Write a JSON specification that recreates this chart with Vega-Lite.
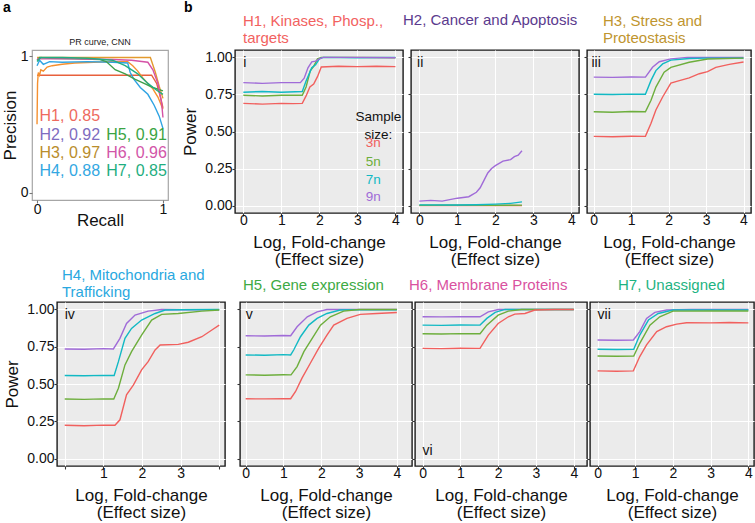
{
"$schema":"https://vega.github.io/schema/vega-lite/v6.json",
"background":"white",
"padding":{"left":0,"top":0,"right":0,"bottom":0},
"config":{
 "font":"Liberation Sans",
 "view":{"stroke":"#1a1a1a","strokeWidth":1.4,"fill":"#EBEBEB"},
 "axis":{"domain":false,"grid":true,"gridColor":"white","tickColor":"#333333","tickSize":3,"tickWidth":1.1,"labelFontSize":14,"labelColor":"#111111","titleFontSize":17,"titleFontWeight":"normal","titleColor":"#111111","titleLineHeight":17,"labelFlush":false,"labelOverlap":false},
 "axisX":{"labelPadding":-3,"titlePadding":7},
 "axisY":{"labelPadding":0,"titlePadding":5},
 "title":{"anchor":"start","frame":"group","fontWeight":"normal","fontSize":15,"lineHeight":17},
 "text":{"font":"Liberation Sans"}
},
"datasets":{
"pr":[
{"h":"H1","x":0,"y":0.86},{"h":"H1","x":0.3,"y":0.86},{"h":"H1","x":0.6,"y":0.86},{"h":"H1","x":0.91,"y":0.86},{"h":"H1","x":0.95,"y":0.8},{"h":"H1","x":0.98,"y":0.7},{"h":"H1","x":1,"y":0.62},
{"h":"H2","x":0,"y":0.5},{"h":"H2","x":0.004,"y":0.8},{"h":"H2","x":0.01,"y":0.88},{"h":"H2","x":0.02,"y":0.86},{"h":"H2","x":0.03,"y":0.9},{"h":"H2","x":0.05,"y":0.89},{"h":"H2","x":0.08,"y":0.92},{"h":"H2","x":0.12,"y":0.93},{"h":"H2","x":0.2,"y":0.94},{"h":"H2","x":0.3,"y":0.95},{"h":"H2","x":0.45,"y":0.955},{"h":"H2","x":0.6,"y":0.96},{"h":"H2","x":0.72,"y":0.96},{"h":"H2","x":0.76,"y":0.93},{"h":"H2","x":0.8,"y":0.89},{"h":"H2","x":0.84,"y":0.84},{"h":"H2","x":0.88,"y":0.8},{"h":"H2","x":0.92,"y":0.76},{"h":"H2","x":0.96,"y":0.7},{"h":"H2","x":1,"y":0.61},
{"h":"H3","x":0,"y":0.99},{"h":"H3","x":0.3,"y":0.99},{"h":"H3","x":0.6,"y":0.99},{"h":"H3","x":0.9,"y":0.99},{"h":"H3","x":0.94,"y":0.88},{"h":"H3","x":0.97,"y":0.78},{"h":"H3","x":1,"y":0.69},
{"h":"H4","x":0,"y":0.93},{"h":"H4","x":0.02,"y":0.97},{"h":"H4","x":0.05,"y":0.94},{"h":"H4","x":0.1,"y":0.96},{"h":"H4","x":0.2,"y":0.955},{"h":"H4","x":0.4,"y":0.96},{"h":"H4","x":0.6,"y":0.955},{"h":"H4","x":0.72,"y":0.95},{"h":"H4","x":0.74,"y":0.88},{"h":"H4","x":0.77,"y":0.83},{"h":"H4","x":0.82,"y":0.77},{"h":"H4","x":0.88,"y":0.72},{"h":"H4","x":0.93,"y":0.64},{"h":"H4","x":0.97,"y":0.56},{"h":"H4","x":1,"y":0.47},
{"h":"H5","x":0,"y":0.97},{"h":"H5","x":0.02,"y":0.99},{"h":"H5","x":0.1,"y":0.985},{"h":"H5","x":0.3,"y":0.98},{"h":"H5","x":0.5,"y":0.975},{"h":"H5","x":0.55,"y":0.96},{"h":"H5","x":0.62,"y":0.9},{"h":"H5","x":0.7,"y":0.87},{"h":"H5","x":0.78,"y":0.83},{"h":"H5","x":0.85,"y":0.8},{"h":"H5","x":0.92,"y":0.77},{"h":"H5","x":1,"y":0.745},
{"h":"H6","x":0,"y":0.98},{"h":"H6","x":0.3,"y":0.98},{"h":"H6","x":0.6,"y":0.975},{"h":"H6","x":0.75,"y":0.97},{"h":"H6","x":0.88,"y":0.955},{"h":"H6","x":0.92,"y":0.9},{"h":"H6","x":0.96,"y":0.8},{"h":"H6","x":0.99,"y":0.65},{"h":"H6","x":1,"y":0.55},
{"h":"H7","x":0,"y":0.96},{"h":"H7","x":0.03,"y":0.99},{"h":"H7","x":0.2,"y":0.99},{"h":"H7","x":0.4,"y":0.985},{"h":"H7","x":0.6,"y":0.97},{"h":"H7","x":0.7,"y":0.93},{"h":"H7","x":0.8,"y":0.87},{"h":"H7","x":0.88,"y":0.8},{"h":"H7","x":0.95,"y":0.75},{"h":"H7","x":1,"y":0.72}
],
"power":[
{"p":"i","n":"3n","x":0,"y":0.69},{"p":"i","n":"3n","x":0.5,"y":0.685},{"p":"i","n":"3n","x":1,"y":0.69},{"p":"i","n":"3n","x":1.3,"y":0.688},{"p":"i","n":"3n","x":1.55,"y":0.69},{"p":"i","n":"3n","x":1.65,"y":0.74},{"p":"i","n":"3n","x":1.75,"y":0.8},{"p":"i","n":"3n","x":1.85,"y":0.82},{"p":"i","n":"3n","x":1.95,"y":0.87},{"p":"i","n":"3n","x":2.05,"y":0.935},{"p":"i","n":"3n","x":2.5,"y":0.94},{"p":"i","n":"3n","x":3,"y":0.938},{"p":"i","n":"3n","x":3.5,"y":0.94},{"p":"i","n":"3n","x":4,"y":0.938},
{"p":"i","n":"5n","x":0,"y":0.745},{"p":"i","n":"5n","x":0.5,"y":0.74},{"p":"i","n":"5n","x":1,"y":0.745},{"p":"i","n":"5n","x":1.55,"y":0.745},{"p":"i","n":"5n","x":1.65,"y":0.8},{"p":"i","n":"5n","x":1.76,"y":0.91},{"p":"i","n":"5n","x":1.85,"y":0.94},{"p":"i","n":"5n","x":1.95,"y":0.99},{"p":"i","n":"5n","x":2.05,"y":1},{"p":"i","n":"5n","x":3,"y":1},{"p":"i","n":"5n","x":4,"y":0.998},
{"p":"i","n":"7n","x":0,"y":0.765},{"p":"i","n":"7n","x":0.5,"y":0.77},{"p":"i","n":"7n","x":1,"y":0.765},{"p":"i","n":"7n","x":1.55,"y":0.77},{"p":"i","n":"7n","x":1.65,"y":0.84},{"p":"i","n":"7n","x":1.8,"y":0.93},{"p":"i","n":"7n","x":1.9,"y":0.95},{"p":"i","n":"7n","x":2,"y":0.99},{"p":"i","n":"7n","x":2.1,"y":1},{"p":"i","n":"7n","x":3,"y":0.998},{"p":"i","n":"7n","x":4,"y":1},
{"p":"i","n":"9n","x":0,"y":0.83},{"p":"i","n":"9n","x":0.5,"y":0.825},{"p":"i","n":"9n","x":1,"y":0.83},{"p":"i","n":"9n","x":1.5,"y":0.83},{"p":"i","n":"9n","x":1.6,"y":0.86},{"p":"i","n":"9n","x":1.7,"y":0.93},{"p":"i","n":"9n","x":1.8,"y":0.97},{"p":"i","n":"9n","x":1.9,"y":0.975},{"p":"i","n":"9n","x":2,"y":0.99},{"p":"i","n":"9n","x":2.1,"y":1},{"p":"i","n":"9n","x":3,"y":1},{"p":"i","n":"9n","x":4,"y":0.998},
{"p":"ii","n":"3n","x":0,"y":0},{"p":"ii","n":"3n","x":1,"y":0.001},{"p":"ii","n":"3n","x":2,"y":0.001},{"p":"ii","n":"3n","x":2.7,"y":0},
{"p":"ii","n":"5n","x":0,"y":0.002},{"p":"ii","n":"5n","x":1,"y":0.003},{"p":"ii","n":"5n","x":2,"y":0.002},{"p":"ii","n":"5n","x":2.7,"y":0.003},
{"p":"ii","n":"7n","x":0,"y":0.005},{"p":"ii","n":"7n","x":1,"y":0.004},{"p":"ii","n":"7n","x":1.5,"y":0.006},{"p":"ii","n":"7n","x":2,"y":0.01},{"p":"ii","n":"7n","x":2.4,"y":0.015},{"p":"ii","n":"7n","x":2.7,"y":0.025},
{"p":"ii","n":"9n","x":0,"y":0.03},{"p":"ii","n":"9n","x":0.3,"y":0.035},{"p":"ii","n":"9n","x":0.6,"y":0.03},{"p":"ii","n":"9n","x":1,"y":0.05},{"p":"ii","n":"9n","x":1.3,"y":0.06},{"p":"ii","n":"9n","x":1.5,"y":0.09},{"p":"ii","n":"9n","x":1.6,"y":0.12},{"p":"ii","n":"9n","x":1.7,"y":0.17},{"p":"ii","n":"9n","x":1.8,"y":0.22},{"p":"ii","n":"9n","x":1.9,"y":0.25},{"p":"ii","n":"9n","x":2,"y":0.27},{"p":"ii","n":"9n","x":2.2,"y":0.3},{"p":"ii","n":"9n","x":2.4,"y":0.31},{"p":"ii","n":"9n","x":2.5,"y":0.33},{"p":"ii","n":"9n","x":2.6,"y":0.34},{"p":"ii","n":"9n","x":2.7,"y":0.37},
{"p":"iii","n":"9n","x":0,"y":0.867},{"p":"iii","n":"9n","x":0.5,"y":0.865},{"p":"iii","n":"9n","x":1,"y":0.868},{"p":"iii","n":"9n","x":1.38,"y":0.867},{"p":"iii","n":"9n","x":1.57,"y":0.933},{"p":"iii","n":"9n","x":1.75,"y":0.971},{"p":"iii","n":"9n","x":2.06,"y":0.99},{"p":"iii","n":"9n","x":2.5,"y":1},{"p":"iii","n":"9n","x":3,"y":1},{"p":"iii","n":"9n","x":4,"y":1},
{"p":"iii","n":"7n","x":0,"y":0.751},{"p":"iii","n":"7n","x":0.5,"y":0.75},{"p":"iii","n":"7n","x":1,"y":0.752},{"p":"iii","n":"7n","x":1.38,"y":0.751},{"p":"iii","n":"7n","x":1.53,"y":0.845},{"p":"iii","n":"7n","x":1.66,"y":0.911},{"p":"iii","n":"7n","x":1.84,"y":0.956},{"p":"iii","n":"7n","x":2.06,"y":0.982},{"p":"iii","n":"7n","x":2.55,"y":0.993},{"p":"iii","n":"7n","x":3,"y":0.995},{"p":"iii","n":"7n","x":4,"y":0.995},
{"p":"iii","n":"5n","x":0,"y":0.633},{"p":"iii","n":"5n","x":0.5,"y":0.63},{"p":"iii","n":"5n","x":1,"y":0.635},{"p":"iii","n":"5n","x":1.38,"y":0.633},{"p":"iii","n":"5n","x":1.53,"y":0.711},{"p":"iii","n":"5n","x":1.66,"y":0.8},{"p":"iii","n":"5n","x":1.88,"y":0.9},{"p":"iii","n":"5n","x":2.06,"y":0.933},{"p":"iii","n":"5n","x":2.55,"y":0.967},{"p":"iii","n":"5n","x":3.04,"y":0.989},{"p":"iii","n":"5n","x":4,"y":0.995},
{"p":"iii","n":"3n","x":0,"y":0.467},{"p":"iii","n":"3n","x":0.5,"y":0.465},{"p":"iii","n":"3n","x":1,"y":0.468},{"p":"iii","n":"3n","x":1.38,"y":0.467},{"p":"iii","n":"3n","x":1.53,"y":0.556},{"p":"iii","n":"3n","x":1.66,"y":0.645},{"p":"iii","n":"3n","x":1.84,"y":0.733},{"p":"iii","n":"3n","x":2.06,"y":0.827},{"p":"iii","n":"3n","x":2.24,"y":0.84},{"p":"iii","n":"3n","x":2.55,"y":0.862},{"p":"iii","n":"3n","x":2.82,"y":0.89},{"p":"iii","n":"3n","x":3.04,"y":0.904},{"p":"iii","n":"3n","x":3.26,"y":0.933},{"p":"iii","n":"3n","x":3.62,"y":0.953},{"p":"iii","n":"3n","x":4,"y":0.969},
{"p":"iv","n":"9n","x":0,"y":0.735},{"p":"iv","n":"9n","x":0.5,"y":0.733},{"p":"iv","n":"9n","x":1,"y":0.737},{"p":"iv","n":"9n","x":1.26,"y":0.735},{"p":"iv","n":"9n","x":1.43,"y":0.806},{"p":"iv","n":"9n","x":1.6,"y":0.906},{"p":"iv","n":"9n","x":1.82,"y":0.962},{"p":"iv","n":"9n","x":2.16,"y":0.989},{"p":"iv","n":"9n","x":2.51,"y":1},{"p":"iv","n":"9n","x":3,"y":0.998},{"p":"iv","n":"9n","x":4,"y":0.998},
{"p":"iv","n":"7n","x":0,"y":0.557},{"p":"iv","n":"7n","x":0.5,"y":0.555},{"p":"iv","n":"7n","x":1,"y":0.558},{"p":"iv","n":"7n","x":1.28,"y":0.557},{"p":"iv","n":"7n","x":1.39,"y":0.65},{"p":"iv","n":"7n","x":1.56,"y":0.806},{"p":"iv","n":"7n","x":1.73,"y":0.873},{"p":"iv","n":"7n","x":1.99,"y":0.929},{"p":"iv","n":"7n","x":2.34,"y":0.973},{"p":"iv","n":"7n","x":2.6,"y":0.996},{"p":"iv","n":"7n","x":3,"y":0.998},{"p":"iv","n":"7n","x":4,"y":1},
{"p":"iv","n":"5n","x":0,"y":0.399},{"p":"iv","n":"5n","x":0.5,"y":0.397},{"p":"iv","n":"5n","x":1,"y":0.4},{"p":"iv","n":"5n","x":1.27,"y":0.399},{"p":"iv","n":"5n","x":1.39,"y":0.472},{"p":"iv","n":"5n","x":1.56,"y":0.628},{"p":"iv","n":"5n","x":1.73,"y":0.717},{"p":"iv","n":"5n","x":1.99,"y":0.828},{"p":"iv","n":"5n","x":2.25,"y":0.929},{"p":"iv","n":"5n","x":2.51,"y":0.967},{"p":"iv","n":"5n","x":2.94,"y":0.973},{"p":"iv","n":"5n","x":3.55,"y":0.989},{"p":"iv","n":"5n","x":4,"y":0.996},
{"p":"iv","n":"3n","x":0,"y":0.223},{"p":"iv","n":"3n","x":0.5,"y":0.22},{"p":"iv","n":"3n","x":1,"y":0.224},{"p":"iv","n":"3n","x":1.3,"y":0.223},{"p":"iv","n":"3n","x":1.43,"y":0.26},{"p":"iv","n":"3n","x":1.6,"y":0.428},{"p":"iv","n":"3n","x":1.78,"y":0.494},{"p":"iv","n":"3n","x":1.99,"y":0.595},{"p":"iv","n":"3n","x":2.16,"y":0.65},{"p":"iv","n":"3n","x":2.34,"y":0.728},{"p":"iv","n":"3n","x":2.47,"y":0.762},{"p":"iv","n":"3n","x":2.94,"y":0.766},{"p":"iv","n":"3n","x":3.2,"y":0.78},{"p":"iv","n":"3n","x":3.55,"y":0.817},{"p":"iv","n":"3n","x":3.81,"y":0.862},{"p":"iv","n":"3n","x":4,"y":0.895},
{"p":"v","n":"9n","x":0,"y":0.824},{"p":"v","n":"9n","x":0.5,"y":0.822},{"p":"v","n":"9n","x":1,"y":0.825},{"p":"v","n":"9n","x":1.19,"y":0.824},{"p":"v","n":"9n","x":1.36,"y":0.884},{"p":"v","n":"9n","x":1.63,"y":0.951},{"p":"v","n":"9n","x":1.89,"y":0.984},{"p":"v","n":"9n","x":2.15,"y":1},{"p":"v","n":"9n","x":3,"y":1},{"p":"v","n":"9n","x":4,"y":1},
{"p":"v","n":"7n","x":0,"y":0.695},{"p":"v","n":"7n","x":0.5,"y":0.693},{"p":"v","n":"7n","x":1,"y":0.697},{"p":"v","n":"7n","x":1.19,"y":0.695},{"p":"v","n":"7n","x":1.27,"y":0.728},{"p":"v","n":"7n","x":1.45,"y":0.817},{"p":"v","n":"7n","x":1.67,"y":0.895},{"p":"v","n":"7n","x":1.89,"y":0.94},{"p":"v","n":"7n","x":2.15,"y":0.973},{"p":"v","n":"7n","x":2.5,"y":0.996},{"p":"v","n":"7n","x":3,"y":0.998},{"p":"v","n":"7n","x":4,"y":0.998},
{"p":"v","n":"5n","x":0,"y":0.561},{"p":"v","n":"5n","x":0.5,"y":0.559},{"p":"v","n":"5n","x":1,"y":0.562},{"p":"v","n":"5n","x":1.2,"y":0.561},{"p":"v","n":"5n","x":1.36,"y":0.617},{"p":"v","n":"5n","x":1.54,"y":0.717},{"p":"v","n":"5n","x":1.76,"y":0.806},{"p":"v","n":"5n","x":1.98,"y":0.895},{"p":"v","n":"5n","x":2.24,"y":0.951},{"p":"v","n":"5n","x":2.59,"y":0.989},{"p":"v","n":"5n","x":3,"y":1},{"p":"v","n":"5n","x":4,"y":1},
{"p":"v","n":"3n","x":0,"y":0.401},{"p":"v","n":"3n","x":0.5,"y":0.4},{"p":"v","n":"3n","x":1,"y":0.402},{"p":"v","n":"3n","x":1.19,"y":0.401},{"p":"v","n":"3n","x":1.32,"y":0.45},{"p":"v","n":"3n","x":1.49,"y":0.539},{"p":"v","n":"3n","x":1.71,"y":0.639},{"p":"v","n":"3n","x":1.93,"y":0.739},{"p":"v","n":"3n","x":2.15,"y":0.828},{"p":"v","n":"3n","x":2.33,"y":0.895},{"p":"v","n":"3n","x":2.68,"y":0.94},{"p":"v","n":"3n","x":3.03,"y":0.967},{"p":"v","n":"3n","x":3.47,"y":0.973},{"p":"v","n":"3n","x":4,"y":0.98},
{"p":"vi","n":"9n","x":0,"y":0.951},{"p":"vi","n":"9n","x":0.5,"y":0.95},{"p":"vi","n":"9n","x":1,"y":0.952},{"p":"vi","n":"9n","x":1.52,"y":0.951},{"p":"vi","n":"9n","x":1.74,"y":0.984},{"p":"vi","n":"9n","x":2,"y":1},{"p":"vi","n":"9n","x":3,"y":1},{"p":"vi","n":"9n","x":4,"y":1},
{"p":"vi","n":"7n","x":0,"y":0.895},{"p":"vi","n":"7n","x":0.5,"y":0.893},{"p":"vi","n":"7n","x":1,"y":0.896},{"p":"vi","n":"7n","x":1.52,"y":0.895},{"p":"vi","n":"7n","x":1.7,"y":0.94},{"p":"vi","n":"7n","x":1.92,"y":0.98},{"p":"vi","n":"7n","x":2.18,"y":1},{"p":"vi","n":"7n","x":3,"y":1},{"p":"vi","n":"7n","x":4,"y":1},
{"p":"vi","n":"5n","x":0,"y":0.837},{"p":"vi","n":"5n","x":0.5,"y":0.835},{"p":"vi","n":"5n","x":1,"y":0.838},{"p":"vi","n":"5n","x":1.52,"y":0.837},{"p":"vi","n":"5n","x":1.7,"y":0.895},{"p":"vi","n":"5n","x":2,"y":0.962},{"p":"vi","n":"5n","x":2.27,"y":0.989},{"p":"vi","n":"5n","x":2.62,"y":1},{"p":"vi","n":"5n","x":4,"y":1},
{"p":"vi","n":"3n","x":0,"y":0.739},{"p":"vi","n":"3n","x":0.5,"y":0.737},{"p":"vi","n":"3n","x":1,"y":0.74},{"p":"vi","n":"3n","x":1.52,"y":0.739},{"p":"vi","n":"3n","x":1.74,"y":0.828},{"p":"vi","n":"3n","x":2,"y":0.906},{"p":"vi","n":"3n","x":2.27,"y":0.951},{"p":"vi","n":"3n","x":2.44,"y":0.969},{"p":"vi","n":"3n","x":2.71,"y":0.973},{"p":"vi","n":"3n","x":2.97,"y":0.996},{"p":"vi","n":"3n","x":3.5,"y":1},{"p":"vi","n":"3n","x":4,"y":1},
{"p":"vii","n":"9n","x":0,"y":0.795},{"p":"vii","n":"9n","x":0.5,"y":0.793},{"p":"vii","n":"9n","x":0.95,"y":0.795},{"p":"vii","n":"9n","x":1.12,"y":0.851},{"p":"vii","n":"9n","x":1.3,"y":0.94},{"p":"vii","n":"9n","x":1.52,"y":0.98},{"p":"vii","n":"9n","x":1.83,"y":0.996},{"p":"vii","n":"9n","x":2.5,"y":1},{"p":"vii","n":"9n","x":3,"y":1},{"p":"vii","n":"9n","x":4,"y":1},
{"p":"vii","n":"7n","x":0,"y":0.733},{"p":"vii","n":"7n","x":0.5,"y":0.731},{"p":"vii","n":"7n","x":0.96,"y":0.733},{"p":"vii","n":"7n","x":1.12,"y":0.828},{"p":"vii","n":"7n","x":1.35,"y":0.929},{"p":"vii","n":"7n","x":1.61,"y":0.973},{"p":"vii","n":"7n","x":2,"y":0.996},{"p":"vii","n":"7n","x":3,"y":0.996},{"p":"vii","n":"7n","x":4,"y":0.996},
{"p":"vii","n":"5n","x":0,"y":0.688},{"p":"vii","n":"5n","x":0.5,"y":0.686},{"p":"vii","n":"5n","x":0.96,"y":0.688},{"p":"vii","n":"5n","x":1.12,"y":0.773},{"p":"vii","n":"5n","x":1.39,"y":0.895},{"p":"vii","n":"5n","x":1.65,"y":0.951},{"p":"vii","n":"5n","x":2,"y":0.989},{"p":"vii","n":"5n","x":3,"y":0.99},{"p":"vii","n":"5n","x":4,"y":0.99},
{"p":"vii","n":"3n","x":0,"y":0.588},{"p":"vii","n":"3n","x":0.5,"y":0.586},{"p":"vii","n":"3n","x":0.95,"y":0.588},{"p":"vii","n":"3n","x":1.12,"y":0.684},{"p":"vii","n":"3n","x":1.3,"y":0.762},{"p":"vii","n":"3n","x":1.57,"y":0.851},{"p":"vii","n":"3n","x":1.83,"y":0.884},{"p":"vii","n":"3n","x":2.1,"y":0.902},{"p":"vii","n":"3n","x":2.36,"y":0.911},{"p":"vii","n":"3n","x":3,"y":0.91},{"p":"vii","n":"3n","x":3.5,"y":0.912},{"p":"vii","n":"3n","x":4,"y":0.91}
]
},
"spacing":-2,
"vconcat":[
{"hconcat":[
 {"width":21,"height":150,"view":{"stroke":"transparent","fill":"transparent"},
  "title":{"text":"a","fontSize":14,"fontWeight":"bold","color":"#000000","dx":0,"offset":35},
  "data":{"values":[]},"mark":"point"},
 {"width":136,"height":150,
  "view":{"stroke":"#A6A6A6","strokeWidth":1.2,"fill":"white"},
  "title":{"text":"PR curve,  CNN","anchor":"middle","fontSize":9,"color":"#222222","offset":2},
  "layer":[
   {"data":{"name":"pr"},"mark":{"type":"line","strokeWidth":1.4},
    "encoding":{
     "x":{"field":"x","type":"quantitative","scale":{"domain":[-0.04,1.04],"nice":false,"zero":false},"axis":{"values":[0,1],"format":"d","grid":false,"title":"Recall","tickColor":"#777777","tickSize":3,"labelPadding":-1,"titlePadding":-4}},
     "y":{"field":"y","type":"quantitative","scale":{"domain":[-0.055,1.045],"nice":false,"zero":false},"axis":{"values":[0,1],"format":"d","grid":false,"title":"Precision","tickColor":"#777777","tickSize":3,"labelPadding":1,"titlePadding":1}},
     "stroke":{"field":"h","type":"nominal","scale":{"domain":["H1","H2","H3","H4","H5","H6","H7"],"range":["#E8603C","#F5902F","#E39A2E","#2EA3E3","#3E9F4B","#D552A6","#21AE82"]},"legend":null}}},
   {"data":{"values":[{}]},"mark":{"type":"text","align":"left","baseline":"middle","fontSize":16,"color":"#EE6A5E"},"encoding":{"x":{"datum":0.02},"y":{"datum":0.56},"text":{"value":"H1, 0.85"}}},
   {"data":{"values":[{}]},"mark":{"type":"text","align":"left","baseline":"middle","fontSize":16,"color":"#7E6CC0"},"encoding":{"x":{"datum":0.02},"y":{"datum":0.42},"text":{"value":"H2, 0.92"}}},
   {"data":{"values":[{}]},"mark":{"type":"text","align":"left","baseline":"middle","fontSize":16,"color":"#B98D2C"},"encoding":{"x":{"datum":0.02},"y":{"datum":0.29},"text":{"value":"H3, 0.97"}}},
   {"data":{"values":[{}]},"mark":{"type":"text","align":"left","baseline":"middle","fontSize":16,"color":"#33A7E2"},"encoding":{"x":{"datum":0.02},"y":{"datum":0.16},"text":{"value":"H4, 0.88"}}},
   {"data":{"values":[{}]},"mark":{"type":"text","align":"left","baseline":"middle","fontSize":16,"color":"#3BA444"},"encoding":{"x":{"datum":0.55},"y":{"datum":0.42},"text":{"value":"H5, 0.91"}}},
   {"data":{"values":[{}]},"mark":{"type":"text","align":"left","baseline":"middle","fontSize":16,"color":"#D256A8"},"encoding":{"x":{"datum":0.55},"y":{"datum":0.29},"text":{"value":"H6, 0.96"}}},
   {"data":{"values":[{}]},"mark":{"type":"text","align":"left","baseline":"middle","fontSize":16,"color":"#1FAE80"},"encoding":{"x":{"datum":0.55},"y":{"datum":0.16},"text":{"value":"H7, 0.85"}}}
  ]},
 {"width":51,"height":163,"view":{"stroke":"transparent","fill":"transparent"},
  "title":{"text":"b","fontSize":14,"fontWeight":"bold","color":"#000000","dx":8,"offset":35},
  "data":{"values":[]},"mark":"point"},
 {"width":168,"height":163,
  "title":{"text":["H1, Kinases, Phosp.,","\u00a0targets"],"color":"#F2625F","dx":8,"offset":4.5},
  "layer":[
   {"data":{"name":"power"},"transform":[{"filter":"datum.p == 'i'"}],"mark":{"type":"line","strokeWidth":1.4},
    "encoding":{
     "x":{"field":"x","type":"quantitative","scale":{"domain":[-0.22,4.2],"nice":false,"zero":false},"axis":{"values":[0,0.5,1,1.5,2,2.5,3,3.5,4],"format":"d","labelExpr":"datum.value % 1 ? '' : datum.label","gridWidth":{"condition":{"test":"datum.value % 1","value":0.5},"value":1.1},"tickOpacity":{"condition":{"test":"datum.value % 1","value":0},"value":1},"title":["Log, Fold-change","(Effect size)"]}},
     "y":{"field":"y","type":"quantitative","scale":{"domain":[-0.05,1.05],"nice":false,"zero":false},"axis":{"values":[0,0.125,0.25,0.375,0.5,0.625,0.75,0.875,1],"format":".2f","labelExpr":"(datum.value*4) % 1 ? '' : datum.label","gridWidth":{"condition":{"test":"(datum.value*4) % 1","value":0.5},"value":1.1},"tickOpacity":{"condition":{"test":"(datum.value*4) % 1","value":0},"value":1},"title":"Power"}},
     "color":{"field":"n","type":"nominal","scale":{"domain":["3n","5n","7n","9n"],"range":["#F1605E","#6DAE3C","#11B9C4","#A06BD8"]},"legend":null}}},
   {"data":{"values":[{}]},"mark":{"type":"text","align":"left","baseline":"middle","fontSize":14,"color":"#111111"},"encoding":{"x":{"datum":0},"y":{"datum":0.965},"text":{"value":"i"}}},
   {"data":{"values":[{}]},"mark":{"type":"text","align":"center","baseline":"middle","fontSize":13.5,"lineHeight":18,"color":"#111111"},"encoding":{"x":{"datum":3.55},"y":{"datum":0.6},"text":{"value":["Sample","size:"]}}},
   {"data":{"values":[{}]},"mark":{"type":"text","align":"center","baseline":"middle","fontSize":13.5,"color":"#F1605E"},"encoding":{"x":{"datum":3.42},"y":{"datum":0.42},"text":{"value":"3n"}}},
   {"data":{"values":[{}]},"mark":{"type":"text","align":"center","baseline":"middle","fontSize":13.5,"color":"#6DAE3C"},"encoding":{"x":{"datum":3.42},"y":{"datum":0.295},"text":{"value":"5n"}}},
   {"data":{"values":[{}]},"mark":{"type":"text","align":"center","baseline":"middle","fontSize":13.5,"color":"#11B9C4"},"encoding":{"x":{"datum":3.42},"y":{"datum":0.175},"text":{"value":"7n"}}},
   {"data":{"values":[{}]},"mark":{"type":"text","align":"center","baseline":"middle","fontSize":13.5,"color":"#A06BD8"},"encoding":{"x":{"datum":3.42},"y":{"datum":0.055},"text":{"value":"9n"}}}
  ]},
 {"width":168,"height":163,
  "title":{"text":"H2, Cancer and Apoptosis","color":"#5B3A8E","dx":-8,"offset":22},
  "layer":[
   {"data":{"name":"power"},"transform":[{"filter":"datum.p == 'ii'"}],"mark":{"type":"line","strokeWidth":1.4},
    "encoding":{
     "x":{"field":"x","type":"quantitative","scale":{"domain":[-0.22,4.2],"nice":false,"zero":false},"axis":{"values":[0,0.5,1,1.5,2,2.5,3,3.5,4],"format":"d","labelExpr":"datum.value % 1 ? '' : datum.label","gridWidth":{"condition":{"test":"datum.value % 1","value":0.5},"value":1.1},"tickOpacity":{"condition":{"test":"datum.value % 1","value":0},"value":1},"title":["Log, Fold-change","(Effect size)"]}},
     "y":{"field":"y","type":"quantitative","scale":{"domain":[-0.05,1.05],"nice":false,"zero":false},"axis":{"values":[0,0.125,0.25,0.375,0.5,0.625,0.75,0.875,1],"labels":false,"gridWidth":{"condition":{"test":"(datum.value*4) % 1","value":0.5},"value":1.1},"tickOpacity":{"condition":{"test":"(datum.value*4) % 1","value":0},"value":1},"title":null}},
     "color":{"field":"n","type":"nominal","scale":{"domain":["3n","5n","7n","9n"],"range":["#F1605E","#6DAE3C","#11B9C4","#A06BD8"]},"legend":null}}},
   {"data":{"values":[{}]},"mark":{"type":"text","align":"left","baseline":"middle","fontSize":14,"color":"#111111"},"encoding":{"x":{"datum":-0.06},"y":{"datum":0.965},"text":{"value":"ii"}}}
  ]},
 {"width":164,"height":163,
  "title":{"text":["H3, Stress and","\u00a0Proteostasis"],"color":"#C0952F","dx":16,"offset":4.5},
  "layer":[
   {"data":{"name":"power"},"transform":[{"filter":"datum.p == 'iii'"}],"mark":{"type":"line","strokeWidth":1.4},
    "encoding":{
     "x":{"field":"x","type":"quantitative","scale":{"domain":[-0.18,4.2],"nice":false,"zero":false},"axis":{"values":[0,0.5,1,1.5,2,2.5,3,3.5,4],"format":"d","labelExpr":"datum.value % 1 ? '' : datum.label","gridWidth":{"condition":{"test":"datum.value % 1","value":0.5},"value":1.1},"tickOpacity":{"condition":{"test":"datum.value % 1","value":0},"value":1},"title":["Log, Fold-change","(Effect size)"]}},
     "y":{"field":"y","type":"quantitative","scale":{"domain":[-0.05,1.05],"nice":false,"zero":false},"axis":{"values":[0,0.125,0.25,0.375,0.5,0.625,0.75,0.875,1],"labels":false,"gridWidth":{"condition":{"test":"(datum.value*4) % 1","value":0.5},"value":1.1},"tickOpacity":{"condition":{"test":"(datum.value*4) % 1","value":0},"value":1},"title":null}},
     "color":{"field":"n","type":"nominal","scale":{"domain":["3n","5n","7n","9n"],"range":["#F1605E","#6DAE3C","#11B9C4","#A06BD8"]},"legend":null}}},
   {"data":{"values":[{}]},"mark":{"type":"text","align":"left","baseline":"middle","fontSize":14,"color":"#111111"},"encoding":{"x":{"datum":-0.06},"y":{"datum":0.965},"text":{"value":"iii"}}}
  ]}
],"spacing":8,"bounds":"flush"},
{"hconcat":[
 {"width":51,"height":164,"view":{"stroke":"transparent","fill":"transparent"},"data":{"values":[]},"mark":"point"},
 {"width":168,"height":164,
  "title":{"text":["H4, Mitochondria and","Trafficking"],"color":"#29A8E0","dx":5,"offset":2.5},
  "layer":[
   {"data":{"name":"power"},"transform":[{"filter":"datum.p == 'iv'"}],"mark":{"type":"line","strokeWidth":1.4},
    "encoding":{
     "x":{"field":"x","type":"quantitative","scale":{"domain":[-0.2,4.15],"nice":false,"zero":false},"axis":{"values":[0,0.5,1,1.5,2,2.5,3,3.5,4],"format":"d","labelExpr":"(datum.value % 1 || datum.value == 0 || datum.value == 4) ? '' : datum.label","gridWidth":{"condition":{"test":"datum.value % 1","value":0.5},"value":1.1},"tickOpacity":{"condition":{"test":"datum.value % 1","value":0},"value":1},"title":["Log, Fold-change","(Effect size)"]}},
     "y":{"field":"y","type":"quantitative","scale":{"domain":[-0.05,1.05],"nice":false,"zero":false},"axis":{"values":[0,0.125,0.25,0.375,0.5,0.625,0.75,0.875,1],"format":".2f","labelExpr":"(datum.value*4) % 1 ? '' : datum.label","gridWidth":{"condition":{"test":"(datum.value*4) % 1","value":0.5},"value":1.1},"tickOpacity":{"condition":{"test":"(datum.value*4) % 1","value":0},"value":1},"title":"Power"}},
     "color":{"field":"n","type":"nominal","scale":{"domain":["3n","5n","7n","9n"],"range":["#F1605E","#6DAE3C","#11B9C4","#A06BD8"]},"legend":null}}},
   {"data":{"values":[{}]},"mark":{"type":"text","align":"left","baseline":"middle","fontSize":14,"color":"#111111"},"encoding":{"x":{"datum":0},"y":{"datum":0.965},"text":{"value":"iv"}}}
  ]},
 {"width":9,"height":164,"view":{"stroke":"transparent","fill":"transparent"},"data":{"values":[]},"mark":"point"},
 {"width":172,"height":164,
  "title":{"text":"H5, Gene expression","color":"#3DAA44","dx":3,"offset":9},
  "layer":[
   {"data":{"name":"power"},"transform":[{"filter":"datum.p == 'v'"}],"mark":{"type":"line","strokeWidth":1.4},
    "encoding":{
     "x":{"field":"x","type":"quantitative","scale":{"domain":[-0.15,4.4],"nice":false,"zero":false},"axis":{"values":[0,0.5,1,1.5,2,2.5,3,3.5,4],"format":"d","labelExpr":"datum.value % 1 ? '' : datum.label","gridWidth":{"condition":{"test":"datum.value % 1","value":0.5},"value":1.1},"tickOpacity":{"condition":{"test":"datum.value % 1","value":0},"value":1},"title":["Log, Fold-change","(Effect size)"]}},
     "y":{"field":"y","type":"quantitative","scale":{"domain":[-0.05,1.05],"nice":false,"zero":false},"axis":{"values":[0,0.125,0.25,0.375,0.5,0.625,0.75,0.875,1],"labels":false,"gridWidth":{"condition":{"test":"(datum.value*4) % 1","value":0.5},"value":1.1},"tickOpacity":{"condition":{"test":"(datum.value*4) % 1","value":0},"value":1},"title":null}},
     "color":{"field":"n","type":"nominal","scale":{"domain":["3n","5n","7n","9n"],"range":["#F1605E","#6DAE3C","#11B9C4","#A06BD8"]},"legend":null}}},
   {"data":{"values":[{}]},"mark":{"type":"text","align":"left","baseline":"middle","fontSize":14,"color":"#111111"},"encoding":{"x":{"datum":0},"y":{"datum":0.965},"text":{"value":"v"}}}
  ]},
 {"width":172,"height":164,
  "title":{"text":"H6, Membrane Proteins","color":"#D9529F","dx":-6,"offset":9},
  "layer":[
   {"data":{"name":"power"},"transform":[{"filter":"datum.p == 'vi'"}],"mark":{"type":"line","strokeWidth":1.4},
    "encoding":{
     "x":{"field":"x","type":"quantitative","scale":{"domain":[-0.2,4.35],"nice":false,"zero":false},"axis":{"values":[0,0.5,1,1.5,2,2.5,3,3.5,4],"format":"d","labelExpr":"datum.value % 1 ? '' : datum.label","gridWidth":{"condition":{"test":"datum.value % 1","value":0.5},"value":1.1},"tickOpacity":{"condition":{"test":"datum.value % 1","value":0},"value":1},"title":["Log, Fold-change","(Effect size)"]}},
     "y":{"field":"y","type":"quantitative","scale":{"domain":[-0.05,1.05],"nice":false,"zero":false},"axis":{"values":[0,0.125,0.25,0.375,0.5,0.625,0.75,0.875,1],"labels":false,"gridWidth":{"condition":{"test":"(datum.value*4) % 1","value":0.5},"value":1.1},"tickOpacity":{"condition":{"test":"(datum.value*4) % 1","value":0},"value":1},"title":null}},
     "color":{"field":"n","type":"nominal","scale":{"domain":["3n","5n","7n","9n"],"range":["#F1605E","#6DAE3C","#11B9C4","#A06BD8"]},"legend":null}}},
   {"data":{"values":[{}]},"mark":{"type":"text","align":"left","baseline":"middle","fontSize":14,"color":"#111111"},"encoding":{"x":{"datum":0},"y":{"datum":0.05},"text":{"value":"vi"}}}
  ]},
 {"width":164,"height":164,
  "title":{"text":"H7, Unassigned","color":"#1DB382","dx":28,"offset":9},
  "layer":[
   {"data":{"name":"power"},"transform":[{"filter":"datum.p == 'vii'"}],"mark":{"type":"line","strokeWidth":1.4},
    "encoding":{
     "x":{"field":"x","type":"quantitative","scale":{"domain":[-0.2,4.15],"nice":false,"zero":false},"axis":{"values":[0,0.5,1,1.5,2,2.5,3,3.5,4],"format":"d","labelExpr":"datum.value % 1 ? '' : datum.label","gridWidth":{"condition":{"test":"datum.value % 1","value":0.5},"value":1.1},"tickOpacity":{"condition":{"test":"datum.value % 1","value":0},"value":1},"title":["Log, Fold-change","(Effect size)"]}},
     "y":{"field":"y","type":"quantitative","scale":{"domain":[-0.05,1.05],"nice":false,"zero":false},"axis":{"values":[0,0.125,0.25,0.375,0.5,0.625,0.75,0.875,1],"labels":false,"gridWidth":{"condition":{"test":"(datum.value*4) % 1","value":0.5},"value":1.1},"tickOpacity":{"condition":{"test":"(datum.value*4) % 1","value":0},"value":1},"title":null}},
     "color":{"field":"n","type":"nominal","scale":{"domain":["3n","5n","7n","9n"],"range":["#F1605E","#6DAE3C","#11B9C4","#A06BD8"]},"legend":null}}},
   {"data":{"values":[{}]},"mark":{"type":"text","align":"left","baseline":"middle","fontSize":14,"color":"#111111"},"encoding":{"x":{"datum":0},"y":{"datum":0.965},"text":{"value":"vii"}}}
  ]}
],"spacing":3,"bounds":"flush"}
]
}
